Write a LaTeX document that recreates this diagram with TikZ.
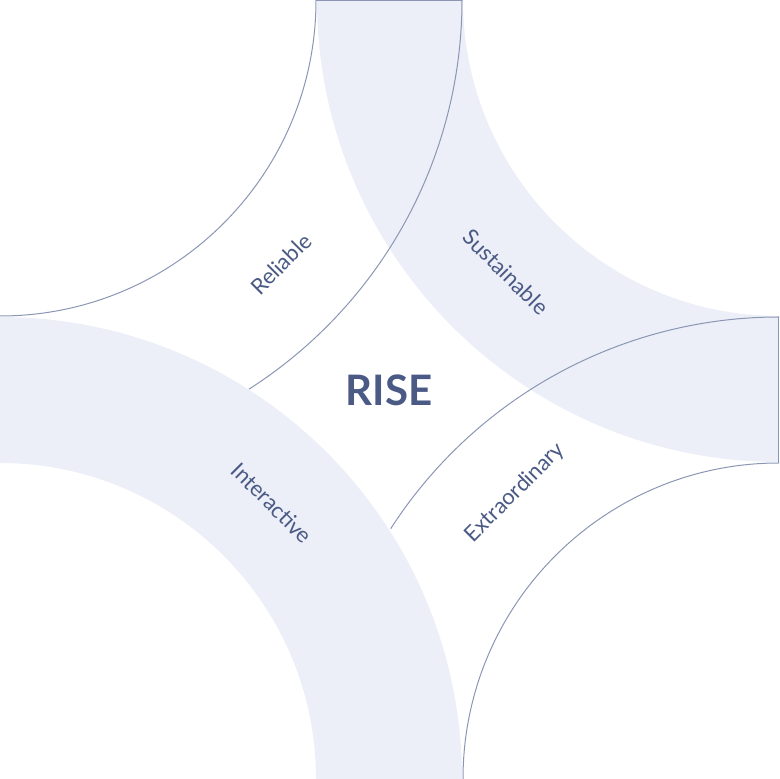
\documentclass[tikz,border=0pt]{standalone}
\usepackage{fontspec}
\setmainfont{Lato}
\usetikzlibrary{positioning}
\definecolor{bandfill}{HTML}{ECEFF7}
\definecolor{bandline}{HTML}{8A96B3}
\definecolor{labelblue}{HTML}{4A5A85}
\begin{document}
\begin{tikzpicture}[x=1pt,y=1pt,
  band/.style={fill=bandfill,draw=none},
  rim/.style={draw=bandline,line width=1pt},
  tag/.style={text=labelblue,font=\fontsize{22}{26}\selectfont},
  ]
  \useasboundingbox (0,0) rectangle (779,779);

  % filled band, upper right
  \fill[band] (317,779) arc[start angle=180,end angle=270,radius=462]
    -- (779,463) arc[start angle=270,end angle=180,radius=316] -- cycle;

  % outlined band, upper left
  \draw[rim] (0,463) arc[start angle=-90,end angle=0,radius=316];
  \draw[rim] (316,778.5) -- (462,778.5);
  \draw[rim] (462,779) arc[start angle=0,end angle=-57.4,radius=462];

  % outlined band, lower right
  \draw[rim] (779,316) arc[start angle=90,end angle=180,radius=316];
  \draw[rim] (778.5,316) -- (778.5,462);
  \draw[rim] (779,462) arc[start angle=90,end angle=147.2,radius=462];

  % filled band, lower left
  \fill[band] (462,0) arc[start angle=0,end angle=90,radius=462]
    -- (0,316) arc[start angle=90,end angle=0,radius=316] -- cycle;

  \node (rise) [text=labelblue,font=\fontsize{42}{46}\selectfont\bfseries] at (389,389) {RISE};
  \node (reliable) [tag,rotate=45] at (281,515) {Reliable};
  \node (sustainable) [tag,rotate=-45] at (506,507) {Sustainable};
  \node (interactive) [tag,rotate=-45] at (272,276) {Interactive};
  \node (extraordinary) [tag,rotate=45] at (515,286) {Extraordinary};
\end{tikzpicture}
\end{document}
